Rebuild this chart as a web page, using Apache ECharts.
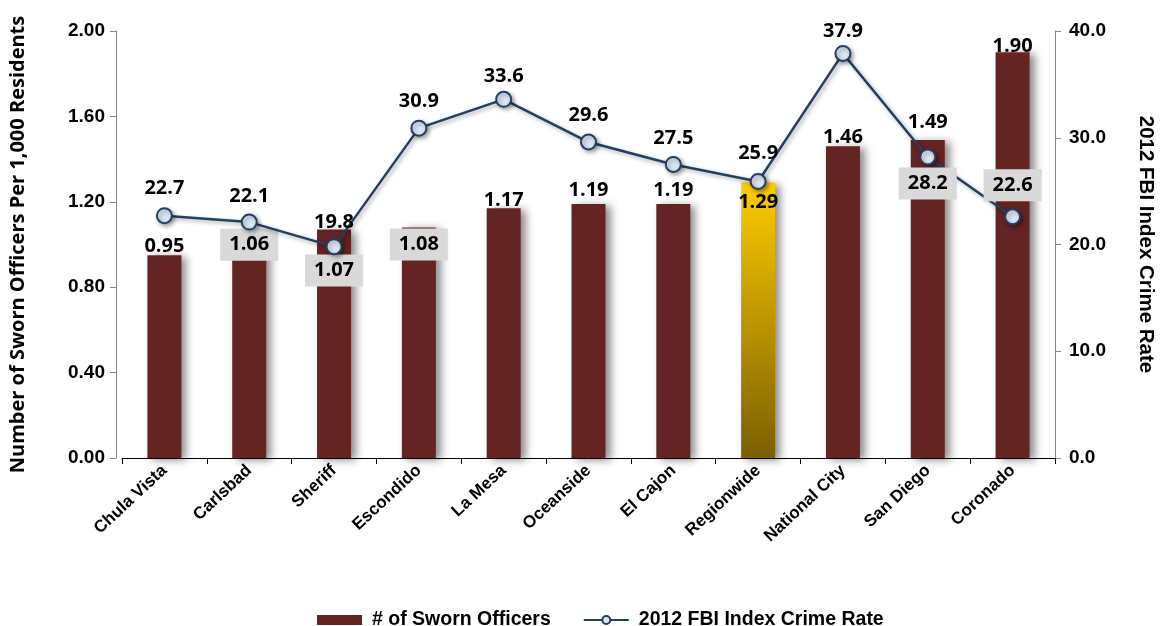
<!DOCTYPE html>
<html>
<head>
<meta charset="utf-8">
<script src="https://cdn.jsdelivr.net/npm/echarts@6/dist/echarts.min.js"></script>
<style>
  html, body { margin: 0; padding: 0; background: #fff; }
  #chart { width: 1164px; height: 626px; }
</style>
</head>
<body>
<div id="chart"></div>
<script>
// Agencies, ordered by sworn officers per 1,000 residents
const categories = ['Chula Vista', 'Carlsbad', 'Sheriff', 'Escondido', 'La Mesa', 'Oceanside',
  'El Cajon', 'Regionwide', 'National City', 'San Diego', 'Coronado'];
const officers = [0.95, 1.06, 1.07, 1.08, 1.17, 1.19, 1.19, 1.29, 1.46, 1.49, 1.90];
const crimeRate = [22.7, 22.1, 19.8, 30.9, 33.6, 29.6, 27.5, 25.9, 37.9, 28.2, 22.6];
const leftTicks = { min: 0, max: 2, step: 0.4 };
const rightTicks = { min: 0, max: 40, step: 10 };
const highlight = 'Regionwide';

// Label placement for each bar / point (kept apart from the values)
const barLabelPlace = [
  { pos: 'top', dist: -1 },
  { pos: 'insideTop', dist: -3, box: true },
  { pos: 'insideTop', dist: 25, box: true },
  { pos: 'insideTop', dist: 1, box: true },
  { pos: 'top', dist: -2 },
  { pos: 'top', dist: 4 },
  { pos: 'top', dist: 4 },
  { pos: 'insideTop', dist: 10 },
  { pos: 'top', dist: -1 },
  { pos: 'top', dist: 8 },
  { pos: 'top', dist: -4 }
];
const lineLabelPlace = [
  { pos: 'top', dist: 9 }, { pos: 'top', dist: 7 }, { pos: 'top', dist: 6 },
  { pos: 'top', dist: 8 }, { pos: 'top', dist: 5 }, { pos: 'top', dist: 8 },
  { pos: 'top', dist: 8 }, { pos: 'top', dist: 10 }, { pos: 'top', dist: 4 },
  { pos: 'bottom', dist: 2, box: true }, { pos: 'top', dist: 7, box: true }
];

const BAR = '#632423';
const LINE = '#243F60';
const BOX = '#D9D9D9';
const labelFont = { color: '#000', fontFamily: 'Open Sans', fontWeight: 'bold', fontSize: 20 };

function labelFor(place, fmt) {
  const l = Object.assign({ show: true, position: place.pos, distance: place.dist, formatter: fmt }, labelFont);
  if (place.box) {
    l.backgroundColor = BOX;
    l.padding = [6, 9, 6, 9];
  }
  return l;
}

const barData = officers.map((v, i) => {
  const item = { value: v, label: labelFor(barLabelPlace[i], p => p.value.toFixed(2)) };
  if (categories[i] === highlight) {
    item.itemStyle = {
      color: new echarts.graphic.LinearGradient(0, 0, 0, 1, [
        { offset: 0, color: '#FFCC00' },
        { offset: 1, color: '#7A6000' }
      ])
    };
  }
  return item;
});

const lineData = crimeRate.map((v, i) => ({
  value: v,
  label: labelFor(lineLabelPlace[i], p => p.value.toFixed(1))
}));

const axisLabelFont = { color: '#000', fontFamily: 'Liberation Sans', fontWeight: 'bold', fontSize: 19 };

const option = {
  animation: false,
  backgroundColor: '#fff',
  grid: { left: 120, right: 100, top: 31, bottom: 168 },
  legend: {
    top: 605,
    left: 312,
    itemWidth: 45,
    itemHeight: 10,
    itemGap: 32,
    textStyle: {
      color: '#000', fontFamily: 'Liberation Sans', fontWeight: 'bold', fontSize: 19.5,
      padding: [0, 0, 0, 5]
    },
    data: [
      { name: '# of Sworn Officers', icon: 'rect', itemStyle: { color: BAR } },
      { name: '2012 FBI Index Crime Rate' }
    ]
  },
  xAxis: {
    type: 'category',
    data: categories,
    axisLine: { lineStyle: { color: '#000', width: 1 } },
    axisTick: { show: true, length: 6, lineStyle: { color: '#000' } },
    axisLabel: {
      rotate: 43, margin: 10, interval: 0,
      color: '#000', fontFamily: 'Liberation Sans', fontWeight: 'bold', fontSize: 17
    }
  },
  yAxis: [
    {
      type: 'value',
      min: leftTicks.min, max: leftTicks.max, interval: leftTicks.step,
      offset: 6,
      name: 'Number of Sworn Officers Per 1,000 Residents',
      nameLocation: 'middle',
      nameGap: 88,
      nameTextStyle: { color: '#000', fontFamily: 'Open Sans', fontWeight: 'bold', fontSize: 20 },
      axisLine: { show: true, lineStyle: { color: '#868686' } },
      axisTick: { show: true, length: 6, lineStyle: { color: '#868686' } },
      splitLine: { show: false },
      axisLabel: Object.assign({ margin: 11, formatter: v => v.toFixed(2) }, axisLabelFont)
    },
    {
      type: 'value',
      min: rightTicks.min, max: rightTicks.max, interval: rightTicks.step,
      position: 'right',
      name: '2012 FBI Index Crime Rate',
      nameLocation: 'middle',
      nameRotate: -90,
      nameGap: 80,
      nameTextStyle: { color: '#000', fontFamily: 'Liberation Sans', fontWeight: 'bold', fontSize: 20.5 },
      axisLine: { show: true, lineStyle: { color: '#868686' } },
      axisTick: { show: true, length: 6, lineStyle: { color: '#868686' } },
      splitLine: { show: false },
      axisLabel: Object.assign({ margin: 14, formatter: v => v.toFixed(1) }, axisLabelFont)
    }
  ],
  series: [
    {
      name: '# of Sworn Officers',
      type: 'bar',
      yAxisIndex: 0,
      barWidth: 34,
      data: barData,
      itemStyle: {
        color: BAR,
        shadowColor: 'rgba(0,0,0,0.45)',
        shadowBlur: 8,
        shadowOffsetX: 5,
        shadowOffsetY: 2
      },
      z: 2
    },
    {
      name: '2012 FBI Index Crime Rate',
      type: 'line',
      yAxisIndex: 1,
      data: lineData,
      symbol: 'circle',
      symbolSize: 15,
      lineStyle: {
        color: LINE, width: 2.5,
        shadowColor: 'rgba(0,0,0,0.35)', shadowBlur: 4, shadowOffsetX: 2, shadowOffsetY: 2
      },
      itemStyle: {
        color: '#DCE6F2', borderColor: LINE, borderWidth: 2,
        shadowColor: 'rgba(0,0,0,0.35)', shadowBlur: 4, shadowOffsetX: 2, shadowOffsetY: 2
      },
      z: 3
    }
  ]
};

const chart = echarts.init(document.getElementById('chart'), null, { renderer: 'canvas' });
chart.setOption(option);
</script>
</body>
</html>
